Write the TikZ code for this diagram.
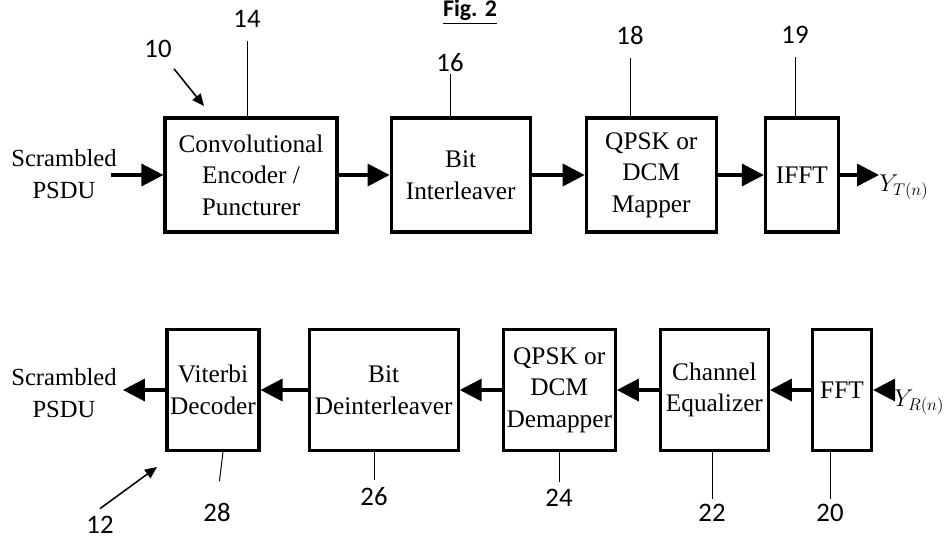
\documentclass[tikz,border=0pt]{standalone}
\usepackage{fontspec}
\setmainfont{Liberation Serif}
\newfontfamily\numfont{Carlito}
\usepackage{tikz}
\usetikzlibrary{arrows,arrows.meta,positioning}

\begin{document}
\begin{tikzpicture}[x=0.025cm,y=-0.025cm]

 \tikzstyle{block}=[draw,line width=2.2pt,inner sep=0cm,align=center,
font=\fontsize{18}{22.5}\selectfont]
 \tikzstyle{flow}=[line width=2.5pt,-{Triangle[length=0.55cm,width=0.55cm]}]
 \tikzstyle{pointer}=[line width=1.1pt,-{Triangle[length=0.3cm,width=0.26cm]}]
 \tikzstyle{leader}=[line width=0.7pt]
 \tikzstyle{refnum}=[font=\numfont\fontsize{19}{22}\selectfont,inner sep=1pt]
 \tikzstyle{signal}=[inner sep=0pt,align=center,font=\fontsize{17.5}{22.5}\selectfont]
 \tikzstyle{output}=[anchor=west,inner sep=0pt,font=\fontsize{17}{20}\selectfont]

\useasboundingbox (0,0) rectangle (948,539);

\node[anchor=base,font=\numfont\bfseries\fontsize{17}{20}\selectfont] (title) at (470,17) {\underline{Fig. 2}};

% Transmitter Row
\node[block,minimum width=4.3cm,minimum height=2.85cm] (conv) at (251,175) {Convolutional\\Encoder /\\Puncturer};
\node[block,minimum width=3.475cm,minimum height=2.85cm] (bitint) [right=1.275cm of conv] {Bit\\Interleaver};
\node[block,minimum width=3.25cm,minimum height=2.85cm] (mapper) [right=1.325cm of bitint] {QPSK or\\DCM\\Mapper};
\node[block,minimum width=1.825cm,minimum height=2.85cm] (ifft) [right=1.15cm of mapper] {IFFT};

\node[signal] (src) at (64,174) {Scrambled\\PSDU};
\node[output] (yt) at (879,187) {$Y_{T(n)}$};

% Receiver Row
\node[block,minimum width=2.3cm,minimum height=3.025cm] (viterbi) at (213,390) {Viterbi\\Decoder};
\node[block,minimum width=3.725cm,minimum height=3.025cm] (deint) [right=1.175cm of viterbi] {Bit\\Deinterleaver};
\node[block,minimum width=2.8cm,minimum height=3.025cm] (demap) [right=1.05cm of deint] {QPSK or\\DCM\\Demapper};
\node[block,minimum width=2.7cm,minimum height=3.025cm] (equal) [right=1.05cm of demap] {Channel\\Equalizer};
\node[block,minimum width=1.475cm,minimum height=3.025cm] (fft) [right=1.025cm of equal] {FFT};

\node[signal] (sink) at (64,393) {Scrambled\\PSDU};
\node[output] (yr) at (894,402) {$Y_{R(n)}$};

% Signal Path
\draw[flow] ([xshift=-0.15cm]src.east |- conv) -- (conv);
\draw[flow] (conv) -- (bitint);
\draw[flow] (bitint) -- (mapper);
\draw[flow] (mapper) -- (ifft);
\draw[flow] (ifft) -- (ifft -| yt.west);

\draw[flow] (yr.west |- fft) -- (fft);
\draw[flow] (fft) -- (equal);
\draw[flow] (equal) -- (demap);
\draw[flow] (demap) -- (deint);
\draw[flow] (deint) -- (viterbi);
\draw[flow] (viterbi) -- ([xshift=0.15cm]sink.east |- viterbi);

% Reference Numerals
\node[refnum] (n10) at (158,49) {10};
\node[refnum] (n14) at (247,19) {14};
\node[refnum] (n16) at (450,63) {16};
\node[refnum] (n18) at (630,35) {18};
\node[refnum] (n19) at (795,35) {19};

\node[refnum] (n12) at (100,525) {12};
\node[refnum] (n28) at (217,512) {28};
\node[refnum] (n26) at (374,497) {26};
\node[refnum] (n24) at (559,498) {24};
\node[refnum] (n22) at (712,513) {22};
\node[refnum] (n20) at (830,513) {20};

\coordinate (tip10) at (204,106);
\coordinate (tip12) at (157,467);

\draw[pointer,shorten <=0.3cm] (n10) -- (tip10);
\draw[pointer] ([yshift=0.15cm]n12.north) -- (tip12);

\draw[leader,shorten >=0.3cm] (conv.north -| n14) -- (n14.south);
\draw[leader] (bitint.north -| n16) -- (n16.south);
\draw[leader,shorten >=0.3cm] (mapper.north -| n18) -- (n18.south);
\draw[leader,shorten >=0.3cm] (ifft.north -| n19) -- (n19.south);

\draw[leader,shorten >=0.5cm] ([xshift=0.25cm]viterbi.south) -- (n28.north);
\draw[leader,shorten >=0.15cm] (deint.south -| n26) -- (n26.north);
\draw[leader,shorten >=0.15cm] (demap.south -| n24) -- (n24.north);
\draw[leader,shorten >=0.1cm] (equal.south -| n22) -- (n22.north);
\draw[leader,shorten >=0.1cm] (fft.south -| n20) -- (n20.north);

\end{tikzpicture}
\end{document}
